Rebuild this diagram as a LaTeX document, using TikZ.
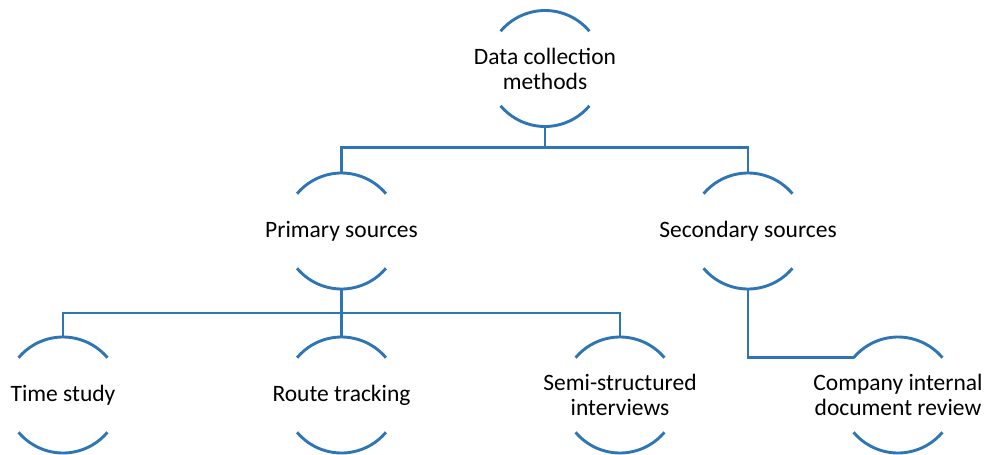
\documentclass[tikz,border=0pt]{standalone}
\usepackage{fontspec}
\setmainfont{Carlito}
\definecolor{accentblue}{RGB}{46,117,182}
\tikzset{
  lbl/.style={inner sep=0pt, align=center,
    font=\fontsize{23.5}{25}\selectfont, text=black},
  link/.style={draw=accentblue, line width=2.9pt},
  rim/.style={draw=accentblue, line width=2.9pt},
}
\begin{document}
\begin{tikzpicture}[x=1pt, y=1pt]
\useasboundingbox (0,0) rectangle (985,-455);

% hierarchy nodes (text at the centre of each circle)
\node[lbl] (root) at (545,-68.5) {Data collection\\methods};
\node[lbl] (prim) at (341.5,-231) {Primary sources};
\node[lbl] (sec)  at (748,-231) {Secondary sources};
\node[lbl] (time) at (63,-395)  {Time study};
\node[lbl] (route) at (341.5,-395) {Route tracking};
\node[lbl] (semi) at (620,-395) {Semi-structured\\interviews};
\node[lbl] (comp) at (898,-395) {Company internal\\document review};

% upper and lower rims of each circle, plus top / bottom / side points
\foreach \n in {root,prim,sec,time,route,semi,comp}{
  \draw[rim] (\n.center) ++(40:58) arc[start angle=40, end angle=140, radius=58];
  \draw[rim] (\n.center) ++(220:58) arc[start angle=220, end angle=320, radius=58];
  \path (\n.center) ++(0,58) coordinate (\n-top);
  \path (\n.center) ++(0,-58) coordinate (\n-bot);
  \path (\n.center) ++(140:58) coordinate (\n-left);
}

% connectors
\draw[link] (root-bot) -- ++(0,-21) coordinate (busA);
\draw[link] (busA) -| (prim-top);
\draw[link] (busA) -| (sec-top);
\draw[link] (prim-bot) -- ++(0,-24) coordinate (busB);
\draw[link] (busB) -| (time-top);
\draw[link] (busB) -- (route-top);
\draw[link] (busB) -| (semi-top);
\draw[link] (sec-bot) |- (comp-left);
\end{tikzpicture}
\end{document}
